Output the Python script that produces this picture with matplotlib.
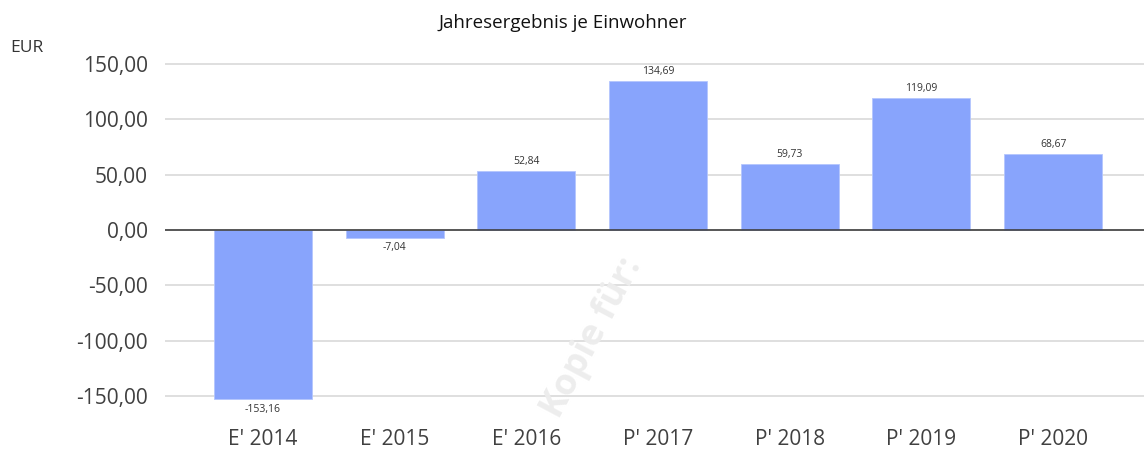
import matplotlib
matplotlib.use('Agg')
import matplotlib.pyplot as plt
from matplotlib.ticker import FuncFormatter

# Jahresergebnis je Einwohner (EUR)
categories = ["E' 2014", "E' 2015", "E' 2016", "P' 2017", "P' 2018", "P' 2019", "P' 2020"]
values = [-153.16, -7.04, 52.84, 134.69, 59.73, 119.09, 68.67]
yticks = [150, 100, 50, 0, -50, -100, -150]


def de_fmt(v, pos=None):
    return f'{v:.2f}'.replace('.', ',')


plt.rcParams['font.family'] = ['Open Sans', 'DejaVu Sans']

fig = plt.figure(figsize=(11.44, 4.5), dpi=100)
ax = fig.add_axes([0.144, 0.103, 0.856, 0.760])

x = list(range(len(categories)))
ax.bar(x, values, width=0.745, color='#88a4fc', edgecolor='#b4c6fd', linewidth=0.6, zorder=3)

# value labels
for xi, v in zip(x, values):
    off = 3 if v >= 0 else -3
    ax.annotate(de_fmt(v), (xi, v), xytext=(0, off), textcoords='offset points',
                ha='center', va='bottom' if v >= 0 else 'top', fontsize=7.5, color='#333333')

ax.set_xlim(-0.745, 6.69)
ax.set_ylim(-157, 152)
ax.set_yticks(yticks)
ax.yaxis.set_major_formatter(FuncFormatter(de_fmt))
ax.set_xticks(x)
ax.set_xticklabels(categories)
ax.tick_params(axis='both', length=0, labelsize=15, colors='#404040')
ax.tick_params(axis='y', pad=12)
ax.tick_params(axis='x', pad=18)

ax.grid(axis='y', color='#d9d9d9', linewidth=1.2, zorder=0)
ax.axhline(0, color='#404040', linewidth=1.2, zorder=4)
for s in ax.spines.values():
    s.set_visible(False)

fig.text(0.492, 0.948, 'Jahresergebnis je Einwohner', ha='center', va='center', fontsize=13.5, color='#111111')
fig.text(0.009, 0.893, 'EUR', ha='left', va='center', fontsize=12.5, color='#333333')

# faint watermark
fig.text(0.518, 0.25, 'Kopie für:', rotation=62, ha='center', va='center',
         fontsize=26, fontweight='bold', color='#ededed', zorder=0)

fig.savefig('out.png', dpi=100)
